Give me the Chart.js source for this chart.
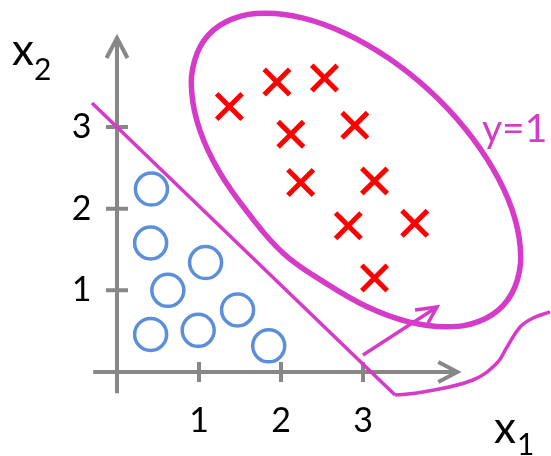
<!DOCTYPE html>
<html><head><meta charset="utf-8">
<script src="https://cdn.jsdelivr.net/npm/chart.js@4.4.0/dist/chart.umd.min.js"></script>
<style>html,body{margin:0;padding:0;background:#fff;overflow:hidden}</style>
</head><body><canvas id="c" width="551" height="456"></canvas>
<script>
// ---- data (x1, x2 values) ----
const xTickValues = [1, 2, 3];
const yTickValues = [1, 2, 3];
const xTickLabels = ['1', '2', '3'];
const yTickLabels = ['1', '2', '3'];

// class 0 (circles)
const negX1 = [0.42, 0.41, 1.08, 0.62, 0.41, 0.99, 1.47, 1.85];
const negX2 = [2.24, 1.58, 1.34, 1.00, 0.46, 0.51, 0.76, 0.32];
// class 1 (crosses)
const posX1 = [1.37, 1.95, 2.53, 2.12, 2.90, 2.24, 3.14, 2.82, 3.63, 3.14];
const posX2 = [3.25, 3.55, 3.60, 2.91, 3.02, 2.32, 2.34, 1.79, 1.82, 1.15];

// straight boundary x1 + x2 = 3
const boundaryX1 = [-0.305, 3.390];
const boundaryX2 = [3.294, -0.282];
// wavy continuation
const tailX1 = [3.390, 3.732, 4.341, 4.634, 4.756, 4.915, 5.073, 5.280];
const tailX2 = [-0.282, -0.245, -0.098, 0.110, 0.306, 0.551, 0.661, 0.735];
// loop around the y=1 group
const loopX1 = [4.713, 4.421, 4.027, 3.557, 3.044, 2.521, 2.024, 1.590, 1.245, 1.013, 0.912, 0.948,
                1.116, 1.409, 1.802, 2.272, 2.787, 3.309, 3.805, 4.239, 4.584, 4.816, 4.917, 4.882];
const loopX2 = [0.819, 0.623, 0.553, 0.613, 0.802, 1.103, 1.457, 1.959, 2.456, 2.953, 3.419, 3.819,
                4.128, 4.324, 4.393, 4.333, 4.145, 3.844, 3.449, 2.988, 2.490, 1.993, 1.528, 1.128];
// pointer arrow
const arrowX1 = [3.00, 3.902];
const arrowX2 = [0.208, 0.796];
const headX1 = [3.634, 3.902, 3.793];
const headX2 = [0.759, 0.796, 0.600];

const MAGENTA = '#D63AC8';
const BLUE = '#5B8FD9';
const GRAY = '#878787';

const pts = (xs, ys) => xs.map((v, i) => ({ x: v, y: ys[i] }));
// closed loop: wrap one point at each end, hide the wrapped segments
const loopPts = pts(loopX1, loopX2);
const loopData = [loopPts[loopPts.length - 1], ...loopPts, loopPts[0], loopPts[1]];
const loopLast = loopData.length - 1;

const axesPlugin = {
  id: 'axes',
  beforeDatasetsDraw(chart) {
    const { ctx, scales: { x, y } } = chart;
    const X = v => x.getPixelForValue(v), Y = v => y.getPixelForValue(v);
    ctx.save();
    ctx.strokeStyle = GRAY; ctx.lineWidth = 4; ctx.lineCap = 'butt'; ctx.lineJoin = 'miter';
    const x0 = X(0), y0 = Y(0);
    const xEnd = X(4.15), yEnd = Y(4.09);
    ctx.beginPath();
    ctx.moveTo(X(-0.29), y0); ctx.lineTo(xEnd, y0);
    ctx.moveTo(x0, Y(-0.26)); ctx.lineTo(x0, yEnd);
    xTickValues.forEach(v => { ctx.moveTo(X(v), y0 - 10); ctx.lineTo(X(v), y0 + 10); });
    yTickValues.forEach(v => { ctx.moveTo(x0 - 11, Y(v)); ctx.lineTo(x0 + 11, Y(v)); });
    ctx.stroke();
    ctx.beginPath();
    ctx.moveTo(xEnd - 19, y0 - 10); ctx.lineTo(xEnd, y0); ctx.lineTo(xEnd - 19, y0 + 10);
    ctx.moveTo(x0 - 10.5, yEnd + 20); ctx.lineTo(x0, yEnd); ctx.lineTo(x0 + 10.5, yEnd + 20);
    ctx.stroke();
    ctx.restore();
  },
  afterDraw(chart) {
    const { ctx } = chart;
    ctx.save();
    ctx.textBaseline = 'alphabetic'; ctx.textAlign = 'left';
    ctx.fillStyle = '#000';
    ctx.font = '44px Lato'; ctx.fillText('x', 12, 65);
    ctx.font = '30px Lato'; ctx.fillText('2', 34, 80);
    ctx.font = '44px Lato'; ctx.fillText('x', 494, 443);
    ctx.font = '30px Lato'; ctx.fillText('1', 517, 455);
    ctx.fillStyle = MAGENTA;
    ctx.font = '39px Lato'; ctx.fillText('y=1', 482, 142);
    ctx.restore();
  }
};

const tickFont = { family: 'Lato', size: 34 };

new Chart(document.getElementById('c'), {
  type: 'scatter',
  data: {
    datasets: [
      { data: pts(negX1, negX2), pointStyle: 'circle', pointRadius: 16, pointBorderWidth: 3.5,
        pointBorderColor: BLUE, pointBackgroundColor: 'rgba(0,0,0,0)', showLine: false },
      { data: pts(posX1, posX2), pointStyle: 'crossRot', pointRadius: 18, pointBorderWidth: 5,
        pointBorderColor: '#FF0000', pointBackgroundColor: '#FF0000', showLine: false },
      { data: loopData, showLine: true, pointRadius: 0, borderColor: MAGENTA, borderWidth: 5.5, tension: 0.4,
        borderJoinStyle: 'round',
        segment: { borderColor: c => (c.p0DataIndex === 0 || c.p1DataIndex === loopLast) ? 'rgba(0,0,0,0)' : MAGENTA } },
      { data: pts(boundaryX1, boundaryX2), showLine: true, pointRadius: 0, borderColor: MAGENTA, borderWidth: 3.5, tension: 0 },
      { data: pts(tailX1, tailX2), showLine: true, pointRadius: 0, borderColor: MAGENTA, borderWidth: 3.5, tension: 0.4 },
      { data: pts(arrowX1, arrowX2), showLine: true, pointRadius: 0, borderColor: MAGENTA, borderWidth: 3.5, tension: 0 },
      { data: pts(headX1, headX2), showLine: true, pointRadius: 0, borderColor: MAGENTA, borderWidth: 3.5, tension: 0 }
    ]
  },
  options: {
    responsive: false, animation: false, clip: false,
    elements: { line: { capBezierPoints: false, borderCapStyle: 'butt' } },
    layout: { autoPadding: false, padding: { left: 0, right: 1, top: 4.5, bottom: 0 } },
    plugins: { legend: { display: false }, tooltip: { enabled: false } },
    scales: {
      x: {
        type: 'linear', min: -0.3, max: 5.28,
        grid: { display: false, drawTicks: false }, border: { display: false },
        afterBuildTicks: s => { s.ticks = xTickValues.map(v => ({ value: v })); },
        afterFit: s => { s.height = 59.5; s.paddingLeft = 0; s.paddingRight = 0; },
        ticks: { autoSkip: false, maxRotation: 0, padding: 4, color: '#000', font: tickFont,
          callback: v => xTickLabels[xTickValues.indexOf(v)] }
      },
      y: {
        type: 'linear', min: -0.3, max: 4.5,
        grid: { display: false, drawTicks: false }, border: { display: false },
        afterBuildTicks: s => { s.ticks = yTickValues.map(v => ({ value: v })); },
        afterFit: s => { s.width = 92.4; s.paddingTop = 0; s.paddingBottom = 0; },
        ticks: { autoSkip: false, padding: 1, color: '#000', font: tickFont,
          callback: v => yTickLabels[yTickValues.indexOf(v)] }
      }
    }
  },
  plugins: [axesPlugin]
});
</script></body></html>
